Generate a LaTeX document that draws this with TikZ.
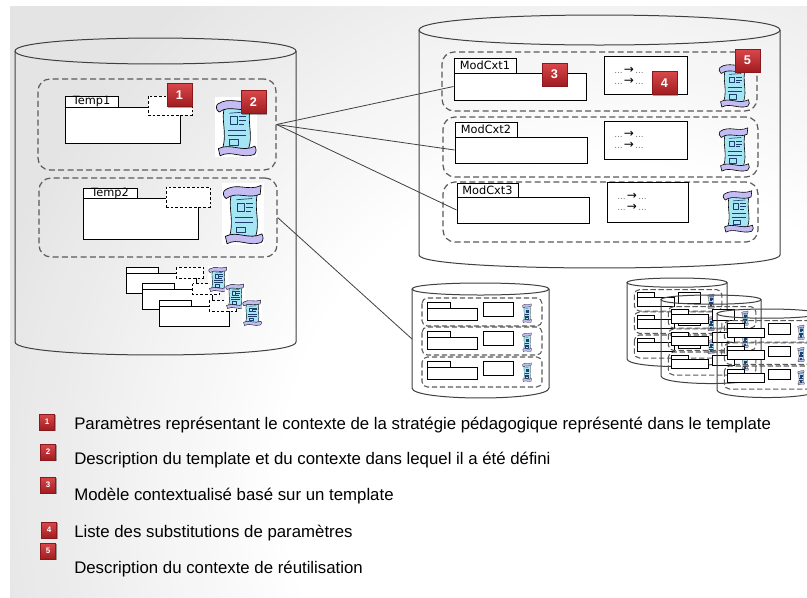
\documentclass[tikz,border=0pt]{standalone}
\usepackage{fontspec}
\setmainfont{Liberation Sans}
\newfontfamily\boxfont{DejaVu Sans}
\usetikzlibrary{fit,shadows}

\definecolor{bggray}{HTML}{E4E4E4}
\definecolor{badgetop}{HTML}{D9484B}
\definecolor{badgebot}{HTML}{A01C20}
\definecolor{groupline}{HTML}{5A5A5A}
\definecolor{scrollblue}{HTML}{A6E6F4}
\definecolor{scrollpurple}{HTML}{C4BCF2}
\definecolor{scrollink}{HTML}{1E3C6E}

% parchment icon: x, y (top left), width, height, white background (1/0), line width
\newcommand\scrollicon[6]{%
  \begin{scope}[shift={(#1,#2)}, xscale=#3, yscale=#4, line width=#6, line join=round]
    \ifnum#5=1 \fill[white] (0,0) rectangle (1,1);\fi
    \filldraw[fill=scrollblue] (0.24,0.15) .. controls (0.12,0.35) and (0.30,0.58) .. (0.18,0.86)
      -- (0.80,0.86) .. controls (0.92,0.62) and (0.74,0.40) .. (0.86,0.13) -- cycle;
    \draw[scrollink] (0.34,0.27) -- (0.72,0.25);
    \draw[scrollink] (0.36,0.33) rectangle (0.52,0.45);
    \draw[scrollink] (0.57,0.33) -- (0.74,0.33) (0.57,0.39) -- (0.74,0.39) (0.57,0.45) -- (0.70,0.45);
    \draw[scrollink] (0.30,0.56) -- (0.74,0.56);
    \draw[scrollink] (0.30,0.64) -- (0.74,0.64);
    \draw[scrollink] (0.34,0.71) rectangle (0.56,0.80);
    \filldraw[fill=scrollpurple] (0.06,0.12) .. controls (0.35,-0.02) and (0.62,0.14) .. (0.93,0.04)
      -- (0.91,0.18) .. controls (0.62,0.27) and (0.36,0.12) .. (0.10,0.25)
      .. controls (0.02,0.22) and (0.02,0.15) .. (0.06,0.12) -- cycle;
    \filldraw[fill=scrollpurple] (0.08,0.86) .. controls (0.38,0.76) and (0.64,0.93) .. (0.95,0.82)
      .. controls (0.99,0.87) and (0.99,0.93) .. (0.93,0.96)
      .. controls (0.64,1.03) and (0.38,0.88) .. (0.12,0.98) -- cycle;
  \end{scope}}

% small template with its parameter box: x, y of the tab's top left corner
\newcommand\minitemplate[2]{%
  \draw[plainbox] (#1,#2+6) rectangle (#1+70,#2+26);
  \draw[plainbox] (#1,#2) rectangle (#1+32,#2+6);
  \draw[parambox] (#1+50,#2) rectangle (#1+77,#2+11);}

% small store of contextualised models: x, y (top left), xscale, yscale
\newcommand\ministore[4]{%
  \begin{scope}[shift={(#1,#2)}, xscale=#3, yscale=#4]
    \draw[cyl] (0,6) -- (0,105) .. controls (0,118.3) and (137,118.3) .. (137,105) -- (137,6);
    \draw[cyl] (0,6) .. controls (0,-2) and (137,-2) .. (137,6) .. controls (137,14) and (0,14) .. (0,6) -- cycle;
    \foreach \t/\b in {15/43, 44/72, 74/104} {
      \draw[minigroup] (10,\t) rectangle (130,\b);
      \draw[plainbox] (15,\t+10) rectangle (65,\t+22);
      \draw[plainbox] (15,\t+4) rectangle (38,\t+10);
      \draw[plainbox] (71,\t+4) rectangle (101,\t+18);
      \scrollicon{110}{\t+5}{10}{20}{0}{0.15pt}
    }
  \end{scope}}

% one substitution line
\newcommand\substline{\textcolor{black!55}{...}\,{\fontsize{9}{8}\selectfont →}\,\textcolor{black!55}{...}}

\begin{document}
\begin{tikzpicture}[x=0.75pt, y=-0.75pt,
  cyl/.style={draw=black!75, line width=0.75pt},
  group/.style={draw=groupline, line width=0.9pt, dash pattern=on 4.5pt off 2.5pt, rounded corners=9pt, inner sep=0pt},
  minigroup/.style={draw=groupline, line width=0.8pt, dash pattern=on 4pt off 2pt, rounded corners=4pt},
  plainbox/.style={draw=black, line width=0.7pt, fill=white, inner sep=0pt},
  tabtext/.style={inner sep=0pt, font=\boxfont\fontsize{8.5}{9}\selectfont},
  parambox/.style={draw=black, line width=0.7pt, fill=white, dash pattern=on 2pt off 1.5pt, inner sep=0pt},
  subst/.style={font=\boxfont\fontsize{6.5}{8.25}\selectfont, align=left, inner sep=0pt},
  link/.style={draw=black!75, line width=0.6pt},
  badge/.style={rectangle, minimum width=18.75pt, minimum height=17.25pt, inner sep=0pt,
    top color=badgetop, bottom color=badgebot, draw=badgebot!85!black, line width=0.3pt,
    text=white, font=\bfseries\fontsize{9.5}{10}\selectfont,
    drop shadow={shadow xshift=0.8pt, shadow yshift=-0.8pt, opacity=0.35, fill=black}},
  legbadge/.style={badge, minimum width=11.5pt, minimum height=12pt, font=\bfseries\fontsize{6}{6}\selectfont,
    drop shadow={shadow xshift=0.6pt, shadow yshift=-0.6pt, opacity=0.3, fill=black}},
  legend/.style={anchor=base west, inner sep=0pt, font=\fontsize{12.6}{15}\selectfont}]

\useasboundingbox (0,0) rectangle (807,597);

% slide background: grey with a soft light glow towards the lower right
\fill[white] (0,0) rectangle (807,597);
\fill[bggray] (10,6) rectangle (807,597);
\begin{scope}
  \clip (10,6) rectangle (807,597);
  \foreach \i in {0,...,30} {
    \pgfmathsetmacro\rr{0.75*(640-11*\i)}
    \pgfmathsetmacro\pp{min(100,\i*3.4)}
    \fill[white!\pp!bggray] (600,480) circle [radius=\rr pt];
  }
\end{scope}

% ---------------- template store ----------------
\draw[cyl] (15,51) -- (15,342) .. controls (15,359.3) and (296,359.3) .. (296,342) -- (296,51);
\draw[cyl] (15,51) .. controls (15,33.7) and (296,33.7) .. (296,51) .. controls (296,68.3) and (15,68.3) .. (15,51) -- cycle;

\node[group, fit={(38,79) (276,170)}] (tpl1) {};
\node[group, fit={(39,178) (277,257)}] (tpl2) {};

\node[plainbox, fit={(65,107) (180,143)}] (t1body) {};
\node[plainbox, fit={(65,96) (118,107)}] (t1tab) {};
\node[tabtext] (t1name) at (t1tab.center) {Temp1};
\node[parambox, fit={(148,96) (192,115)}] (t1par) {};
\node[badge] (b1) at (179.5,95) {1};
\scrollicon{215}{97}{42}{60}{1}{0.5pt}
\node[badge] (b2) at (253.5,102) {2};

\node[plainbox, fit={(83,198) (198,239)}] (t2body) {};
\node[plainbox, fit={(83,188) (137,198)}] (t2tab) {};
\node[tabtext] (t2name) at (t2tab.center) {Temp2};
\node[parambox, fit={(166,187) (210,207)}] (t2par) {};
\scrollicon{222}{183}{42}{62}{1}{0.5pt}

\minitemplate{126}{267}
\minitemplate{142.5}{283.5}
\minitemplate{159}{300}
\scrollicon{208}{266}{20}{26}{1}{0.3pt}
\scrollicon{225}{283}{20}{26}{1}{0.3pt}
\scrollicon{242}{299}{20}{27}{1}{0.3pt}

% ---------------- store of contextualised models ----------------
\draw[cyl] (419,30) -- (419,255) .. controls (419,272.3) and (780,272.3) .. (780,255) -- (780,30);
\draw[cyl] (419,30) .. controls (419,10) and (780,10) .. (780,30) .. controls (780,50) and (419,50) .. (419,30) -- cycle;

\node[group, fit={(442,52) (757,111)}] (ctx1) {};
\node[group, fit={(443,117) (758,177)}] (ctx2) {};
\node[group, fit={(443,182) (758,242)}] (ctx3) {};

\node[plainbox, fit={(454,73) (586,100)}] (mc1) {};
\node[plainbox, fit={(454,58) (516,73)}] (mc1tab) {};
\node[tabtext] (mc1name) at (mc1tab.center) {ModCxt1};
\node[plainbox, fit={(604,56) (687,94)}] (sub1) {};
\node[subst, anchor=west] (sub1txt) at (614,76) {\substline\\\substline};
\scrollicon{718}{62}{32}{46}{0}{0.45pt}
\node[badge] (b3) at (554.5,74.5) {3};
\node[badge] (b4) at (664.5,83) {4};
\node[badge] (b5) at (747.5,60.5) {5};

\node[plainbox, fit={(455,137) (587,163)}] (mc2) {};
\node[plainbox, fit={(455,122) (517,137)}] (mc2tab) {};
\node[tabtext] (mc2name) at (mc2tab.center) {ModCxt2};
\node[plainbox, fit={(604,121) (687,159)}] (sub2) {};
\node[subst, anchor=west] (sub2txt) at (614,140) {\substline\\\substline};
\scrollicon{718}{126}{32}{46}{0}{0.45pt}

\node[plainbox, fit={(457,197) (589,223)}] (mc3) {};
\node[plainbox, fit={(457,183) (518,197)}] (mc3tab) {};
\node[tabtext] (mc3name) at (mc3tab.center) {ModCxt3};
\node[plainbox, fit={(607,182) (688,222)}] (sub3) {};
\node[subst, anchor=west] (sub3txt) at (617,202) {\substline\\\substline};
\scrollicon{722}{189}{32}{44}{0}{0.45pt}

% ---------------- further stores ----------------
\ministore{412}{283}{1}{1}
\ministore{627}{278}{0.73}{0.77}
\ministore{661}{295}{0.73}{0.77}
\ministore{717}{309}{0.73}{0.77}
\coordinate (ms1) at (412,339);

% ---------------- links ----------------
\draw[link] (tpl1.east) -- (mc1.west);
\draw[link] (tpl1.east) -- (mc2.west);
\draw[link] (tpl1.east) -- (mc3.west);
\draw[link] (tpl2.east) -- (ms1);

% ---------------- legend ----------------
\node[legbadge] (l1) at (47,422) {1};
\node[legend] (lt1) at (74,429) {Paramètres représentant le contexte de la stratégie pédagogique représenté dans le template};
\node[legbadge] (l2) at (48,452) {2};
\node[legend] (lt2) at (74,464) {Description du template et du contexte dans lequel il a été défini};
\node[legbadge] (l3) at (48,485) {3};
\node[legend] (lt3) at (74,500) {Modèle contextualisé basé sur un template};
\node[legbadge] (l4) at (49,530) {4};
\node[legend] (lt4) at (74,537) {Liste des substitutions de paramètres};
\node[legbadge] (l5) at (48,551) {5};
\node[legend] (lt5) at (74,573) {Description du contexte de réutilisation};
\end{tikzpicture}
\end{document}
